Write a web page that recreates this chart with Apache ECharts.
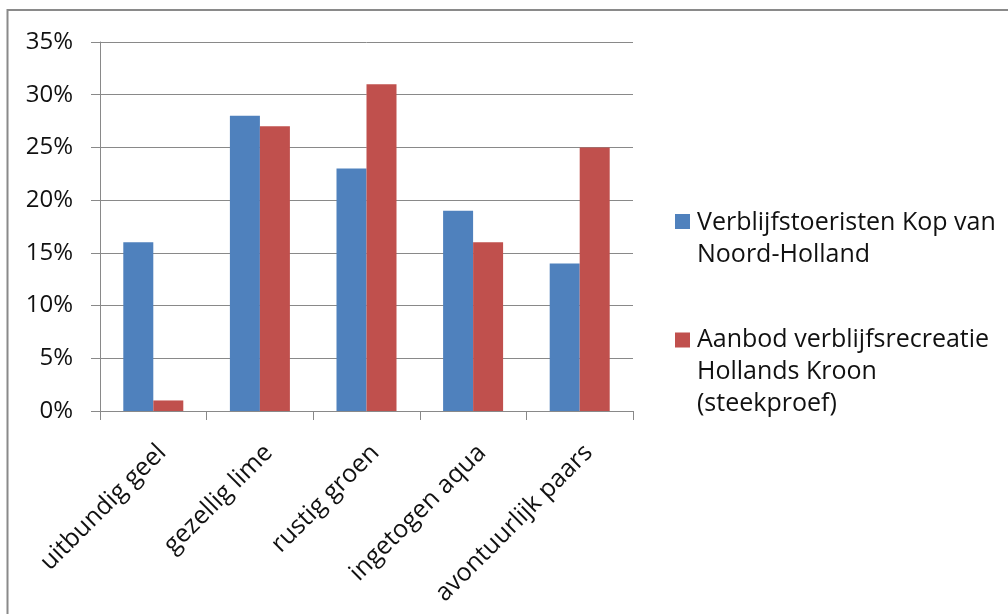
<!DOCTYPE html>
<html>
<head>
<meta charset="utf-8">
<script src="https://cdn.jsdelivr.net/npm/echarts@6/dist/echarts.min.js"></script>
<style>
  html, body { margin: 0; padding: 0; background: #ffffff; }
  #chart { width: 1008px; height: 614px; }
</style>
</head>
<body>
<div id="chart"></div>
<script>
const categories = ['uitbundig geel', 'gezellig lime', 'rustig groen', 'ingetogen aqua', 'avontuurlijk paars'];
const seriesNames = ['Verblijfstoeristen Kop van\nNoord-Holland', 'Aanbod verblijfsrecreatie\nHollands Kroon\n(steekproef)'];
const touristValues = [16, 28, 23, 19, 14];
const supplyValues = [1, 27, 31, 16, 25];
const yTicks = [0, 5, 10, 15, 20, 25, 30, 35];

const FONT = '"Open Sans", sans-serif';
const TEXT = '#111111';
const GRID = '#898989';

const chart = echarts.init(document.getElementById('chart'), null, { renderer: 'canvas' });
chart.setOption({
  animation: false,
  backgroundColor: '#ffffff',
  grid: { left: 100, right: 375, top: 42, bottom: 203, containLabel: false },
  xAxis: {
    type: 'category',
    data: categories,
    axisLine: { show: true, lineStyle: { color: GRID, width: 1 } },
    axisTick: { show: true, length: 9, lineStyle: { color: GRID } },
    axisLabel: {
      rotate: 45,
      margin: 29,
      verticalAlign: 'top',
      fontFamily: FONT,
      fontSize: 25,
      color: TEXT
    }
  },
  yAxis: {
    type: 'value',
    min: yTicks[0],
    max: yTicks[yTicks.length - 1],
    interval: 5,
    axisLine: { show: true, lineStyle: { color: GRID, width: 1 } },
    axisTick: { show: true, length: 9, lineStyle: { color: GRID } },
    splitLine: { show: true, lineStyle: { color: GRID, width: 1 } },
    axisLabel: {
      margin: 27,
      fontFamily: FONT,
      fontSize: 24,
      color: TEXT,
      formatter: '{value}%'
    }
  },
  legend: [
    {
      orient: 'vertical',
      left: 675,
      top: 207,
      padding: 0,
      itemWidth: 17,
      itemHeight: 50,
      selectedMode: false,
      itemStyle: { borderWidth: 0 },
      textStyle: { fontFamily: FONT, fontSize: 25, color: TEXT, lineHeight: 32 },
      data: [{ name: seriesNames[0], icon: 'path://M0,0H15V15H0Z M17,50L16.99,50' }]
    },
    {
      orient: 'vertical',
      left: 675,
      top: 324,
      padding: 0,
      itemWidth: 17,
      itemHeight: 79,
      selectedMode: false,
      itemStyle: { borderWidth: 0 },
      textStyle: { fontFamily: FONT, fontSize: 25, color: TEXT, lineHeight: 32 },
      data: [{ name: seriesNames[1], icon: 'path://M0,0H15V15H0Z M17,79L16.99,79' }]
    }
  ],
  series: [
    {
      name: seriesNames[0],
      type: 'bar',
      data: touristValues,
      barWidth: 30,
      barGap: '0%',
      itemStyle: { color: '#4f81bd' }
    },
    {
      name: seriesNames[1],
      type: 'bar',
      data: supplyValues,
      barWidth: 30,
      barGap: '0%',
      itemStyle: { color: '#c0504d' }
    }
  ],
  graphic: [
    {
      type: 'rect',
      silent: true,
      shape: { x: 7.5, y: 10, width: 1200, height: 800 },
      style: { fill: null, stroke: '#8a8a8a', lineWidth: 2 }
    }
  ]
});
</script>
</body>
</html>
